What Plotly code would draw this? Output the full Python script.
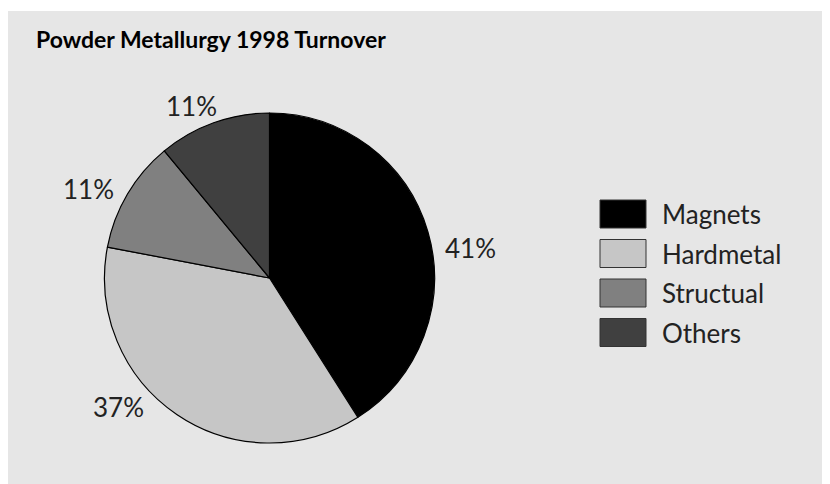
import plotly.graph_objects as go

categories = ['Magnets', 'Hardmetal', 'Structual', 'Others']
shares = [41, 37, 11, 11]
colors = ['#000000', '#c6c6c6', '#808080', '#404040']

W, H = 830, 484
FONT = 'Lato'
OFF = 8  # page body margin pushes the plot 8px right and down


def px(x):
    return (x - OFF) / W


def py(y):
    return 1 - (y - OFF) / H


fig = go.Figure(go.Pie(
    labels=categories,
    values=shares,
    marker=dict(colors=colors, line=dict(color='#000000', width=1.2)),
    sort=False,
    direction='clockwise',
    rotation=0,
    textinfo='none',
    showlegend=False,
    hoverinfo='label+percent',
    domain=dict(x=[px(104), px(435)], y=[py(443), py(113)]),
))

# grey panel behind everything
shapes = [dict(type='rect', xref='paper', yref='paper', x0=px(8), x1=1, y0=0, y1=py(11),
               fillcolor='#e6e6e6', line=dict(width=0), layer='below')]
annotations = [dict(text='<b>Powder Metallurgy 1998 Turnover</b>', xref='paper', yref='paper',
                    x=px(34), y=py(23), xanchor='left', yanchor='top', showarrow=False,
                    font=dict(family=FONT, size=23, color='#000000'))]

# percent labels sit a little off the slice middles in the original, so place them by hand
label_pos = [(470, 248), (118, 407), (88, 189), (191, 106)]
total = sum(shares)
for v, (lx, ly) in zip(shares, label_pos):
    annotations.append(dict(text=f'{v / total * 100:.0f}%', xref='paper', yref='paper',
                            x=px(lx), y=py(ly), xanchor='center', yanchor='middle', showarrow=False,
                            font=dict(family=FONT, size=26, color='#222222')))

# legend drawn by hand so the swatches are large like the original
for i, (name, col) in enumerate(zip(categories, colors)):
    top = 200 + i * 39.5
    shapes.append(dict(type='rect', xref='paper', yref='paper',
                       x0=px(600), x1=px(646), y0=py(top + 28), y1=py(top),
                       fillcolor=col, line=dict(color='#333333', width=1)))
    annotations.append(dict(text=name, xref='paper', yref='paper', x=px(660), y=py(top + 14),
                            xanchor='left', yanchor='middle', showarrow=False,
                            font=dict(family=FONT, size=26, color='#222222')))

fig.update_layout(
    width=W, height=H,
    margin=dict(l=0, r=0, t=0, b=0),
    paper_bgcolor='#ffffff',
    plot_bgcolor='#e6e6e6',
    shapes=shapes,
    annotations=annotations,
)

fig.write_html("out.html")
